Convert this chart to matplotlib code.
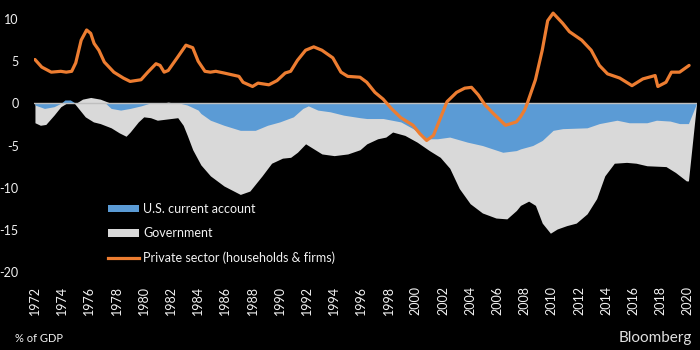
import matplotlib
matplotlib.use("Agg")

import matplotlib.pyplot as plt
from matplotlib.patches import Patch
from matplotlib.lines import Line2D

# ------------------------------------------------------------------
# Data (% of GDP)
# ------------------------------------------------------------------
private_years = [
    1972.0, 1972.5, 1973.2, 1973.9, 1974.3, 1974.7, 1975.0, 1975.4, 1975.8, 1976.1,
    1976.35, 1976.7, 1977.1, 1977.8, 1978.5, 1979.0, 1979.8, 1980.3, 1980.9, 1981.2,
    1981.5, 1981.8, 1982.5, 1983.1, 1983.6, 1984.0, 1984.5, 1984.9, 1985.3, 1985.9,
    1987.0, 1987.3, 1988.0, 1988.4, 1989.2, 1989.8, 1990.4, 1990.8, 1991.3, 1991.9,
    1992.5, 1993.1, 1993.9, 1994.5, 1995.0, 1995.9, 1996.4, 1997.0, 1997.6, 1998.2,
    1998.9, 1999.8, 2000.3, 2000.8, 2001.3, 2001.8, 2002.3, 2003.0, 2003.6, 2004.1,
    2004.6, 2005.1, 2005.7, 2006.6, 2007.4, 2007.7, 2008.0, 2008.2, 2008.8, 2009.3,
    2009.7, 2010.1, 2010.8, 2011.3, 2012.2, 2012.9, 2013.5, 2014.1, 2015.0, 2015.9,
    2016.7, 2017.6, 2017.8, 2018.4, 2018.8, 2019.4, 2020.1,
]
private_vals = [
    5.2, 4.3, 3.7, 3.8, 3.7, 3.8, 4.8, 7.5, 8.7, 8.3,
    7.1, 6.3, 4.9, 3.7, 3.0, 2.6, 2.8, 3.7, 4.7, 4.5,
    3.7, 3.9, 5.5, 6.9, 6.6, 5.0, 3.8, 3.7, 3.8, 3.6,
    3.2, 2.5, 2.0, 2.4, 2.2, 2.7, 3.6, 3.8, 5.1, 6.3,
    6.7, 6.3, 5.4, 3.7, 3.2, 3.1, 2.5, 1.3, 0.5, -0.6,
    -1.7, -2.6, -3.6, -4.4, -3.8, -1.8, 0.2, 1.3, 1.8, 1.9,
    1.0, -0.2, -1.2, -2.6, -2.2, -1.6, -0.8, 0.0, 2.8, 6.3,
    9.8, 10.7, 9.5, 8.5, 7.5, 6.3, 4.5, 3.5, 3.0, 2.1,
    2.9, 3.3, 2.0, 2.5, 3.7, 3.7, 4.5,
]

gov_years = [
    1972.0, 1972.4, 1972.8, 1973.4, 1973.9, 1974.3, 1974.9, 1975.2, 1975.7, 1976.3,
    1976.8, 1977.6, 1978.2, 1978.7, 1979.0, 1979.6, 1980.0, 1980.5, 1981.0, 1981.5,
    1982.0, 1982.5, 1982.9, 1983.2, 1983.6, 1984.2, 1984.9, 1985.9, 1987.1, 1987.8,
    1988.7, 1989.4, 1990.2, 1990.8, 1991.3, 1991.9, 1992.5, 1993.1, 1994.0, 1995.0,
    1995.9, 1996.4, 1997.2, 1997.8, 1998.3, 1999.2, 2000.1, 2001.0, 2001.8, 2002.5,
    2003.2, 2004.0, 2004.9, 2005.9, 2006.7, 2007.4, 2007.7, 2008.3, 2008.8, 2009.3,
    2009.9, 2010.4, 2011.1, 2011.8, 2012.6, 2013.3, 2013.9, 2014.6, 2015.5, 2016.2,
    2017.0, 2018.4, 2019.1, 2019.9, 2020.05, 2020.65,
]
gov_vals = [
    -2.3, -2.6, -2.5, -1.4, -0.4, 0.0, 0.0, -0.6, -1.6, -2.2,
    -2.4, -2.9, -3.5, -3.9, -3.4, -2.2, -1.6, -1.7, -2.0, -1.9,
    -1.8, -1.7, -2.6, -3.8, -5.5, -7.3, -8.6, -9.8, -10.8, -10.4,
    -8.6, -7.1, -6.5, -6.4, -5.8, -4.8, -5.4, -6.0, -6.2, -6.0,
    -5.5, -4.8, -4.2, -4.0, -3.4, -3.8, -4.6, -5.6, -6.4, -7.7,
    -10.1, -11.9, -13.0, -13.6, -13.7, -12.7, -12.1, -11.6, -12.1, -14.2,
    -15.4, -14.9, -14.5, -14.2, -13.1, -11.3, -8.6, -7.1, -7.0, -7.1,
    -7.4, -7.5, -8.2, -9.2, -9.2, 0.0,
]
# government surplus above the zero line
gov_pos_years = [1975.0, 1975.5, 1976.1, 1976.8, 1977.6, 1981.3, 1981.8, 1982.3]
gov_pos_vals = [0.0, 0.5, 0.7, 0.5, 0.0, 0.0, 0.15, 0.0]

ca_years = [
    1972.0, 1972.7, 1973.4, 1973.9, 1974.2, 1974.6, 1975.0, 1977.2, 1977.6, 1978.3,
    1979.0, 1979.8, 1980.4, 1982.7, 1983.2, 1984.0, 1984.2, 1984.9, 1985.9, 1987.1,
    1988.2, 1989.1, 1990.0, 1991.0, 1991.7, 1992.1, 1992.8, 1993.7, 1994.7, 1995.9,
    1996.4, 1997.6, 1998.9, 1999.8, 2000.8, 2001.6, 2002.5, 2003.8, 2004.9, 2006.4,
    2007.4, 2007.7, 2008.6, 2009.3, 2010.1, 2010.8, 2012.6, 2013.5, 2014.8, 2015.7,
    2017.0, 2017.7, 2018.7, 2019.4, 2020.05, 2020.65,
]
ca_vals = [
    -0.2, -0.6, -0.4, 0.0, 0.4, 0.4, 0.0, 0.0, -0.6, -0.8,
    -0.6, -0.3, 0.0, 0.0, -0.2, -0.8, -1.2, -2.0, -2.6, -3.2,
    -3.2, -2.6, -2.2, -1.6, -0.6, -0.3, -0.8, -1.0, -1.4, -1.7,
    -1.8, -1.8, -2.2, -3.0, -4.2, -4.2, -4.0, -4.6, -5.0, -5.8,
    -5.6, -5.4, -5.0, -4.4, -3.2, -3.0, -2.9, -2.4, -2.0, -2.3,
    -2.3, -2.0, -2.1, -2.4, -2.4, 0.0,
]

tick_years = list(range(1972, 2021, 2))
y_ticks = [10, 5, 0, -5, -10, -15, -20]

C_CA = "#5B9BD5"
C_GOV = "#D9D9D9"
C_PRIV = "#ED7D31"
C_ZERO = "#BFBFBF"
C_TEXT = "#F2F2F2"

plt.rcParams["font.family"] = ["Lato", "DejaVu Sans"]
plt.rcParams["axes.unicode_minus"] = False

fig = plt.figure(figsize=(7, 3.5), dpi=100, facecolor="black")
ax = fig.add_axes([34 / 700, 1 - 272 / 350, 663 / 700, (272 - 10.6) / 350])
ax.set_facecolor("black")

ax.fill_between(gov_years, gov_vals, 0, color=C_GOV, lw=0, zorder=2)
ax.fill_between(gov_pos_years, gov_pos_vals, 0, color=C_GOV, lw=0, zorder=2)
ax.fill_between(ca_years, ca_vals, 0, color=C_CA, lw=0, zorder=3)
ax.axhline(0, color=C_ZERO, lw=1.0, zorder=4)
ax.plot(private_years, private_vals, color=C_PRIV, lw=2.3, zorder=5,
        solid_capstyle="round", solid_joinstyle="round")

ax.set_xlim(1971.93, 2020.68)
ax.set_ylim(-20, 11)

for s in ax.spines.values():
    s.set_visible(False)

ax.set_yticks(y_ticks)
ax.set_yticklabels([str(v) for v in y_ticks])
ax.set_xticks(tick_years)
ax.set_xticklabels([str(y) for y in tick_years], rotation=90)
ax.tick_params(axis="both", length=0, colors=C_TEXT, labelsize=9)
ax.tick_params(axis="y", pad=11)
ax.tick_params(axis="x", pad=10)

handles = [
    Patch(facecolor=C_CA, edgecolor="none"),
    Patch(facecolor=C_GOV, edgecolor="none"),
    Line2D([], [], color=C_PRIV, lw=2.3),
]
labels = ["U.S. current account", "Government", "Private sector (households & firms)"]
leg = fig.legend(handles, labels, loc="upper left",
                 bbox_to_anchor=(108 / 700, 1 - 203 / 350),
                 frameon=False, fontsize=9, labelcolor=C_TEXT,
                 handlelength=2.5, handleheight=0.55, handletextpad=0.3,
                 labelspacing=0.98, borderpad=0, borderaxespad=0)

fig.text(15 / 700, 1 - 339 / 350, "% of GDP", color=C_TEXT, fontsize=8,
         ha="left", va="center")
fig.text(692 / 700, 1 - 338 / 350, "Bloomberg", color="#E0E0E0", fontsize=11,
         ha="right", va="center")

fig.savefig("out.png", dpi=100, facecolor="black")
